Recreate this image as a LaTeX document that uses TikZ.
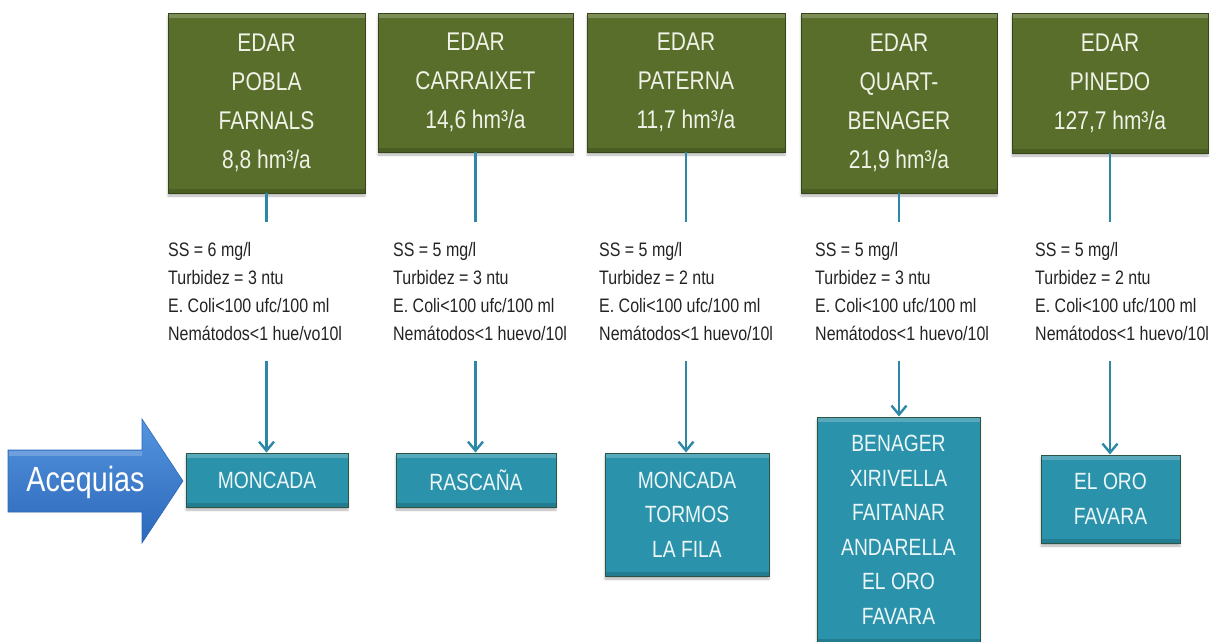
\documentclass[tikz,border=0pt]{standalone}
\usepackage{fontspec}
\setmainfont{Liberation Sans}[FakeStretch=0.82]
\usetikzlibrary{arrows.meta,shadows.blur}
\definecolor{edgreen}{RGB}{88,110,42}
\definecolor{edgreenD}{RGB}{55,70,25}
\definecolor{edteal}{RGB}{42,146,170}
\definecolor{edtealD}{RGB}{45,85,70}
\definecolor{edline}{RGB}{45,136,168}
\definecolor{blueL}{RGB}{84,148,222}
\definecolor{blueD}{RGB}{44,104,186}
\definecolor{txtgray}{RGB}{35,35,35}
\begin{document}
\begin{tikzpicture}[x=1pt,y=-1pt,
  bevel/.style={path picture={
      \fill[white,opacity=0.22] (path picture bounding box.north west) rectangle ([yshift=-5pt]path picture bounding box.north east);
      \fill[black,opacity=0.15] ([yshift=4pt]path picture bounding box.south west) rectangle (path picture bounding box.south east);}},
  edarbox/.style={draw=edgreenD, line width=0.8pt, fill=edgreen, text={rgb,255:red,240;green,242;blue,232},
      inner sep=0pt, align=center, font=\fontsize{25.6}{39}\selectfont, bevel,
      blur shadow={shadow xshift=0pt, shadow yshift=-3pt, shadow blur steps=4, shadow opacity=30}},
  acqbox/.style={draw=edtealD, line width=1pt, fill=edteal, text={rgb,255:red,236;green,246;blue,248},
      inner sep=0pt, align=center, font=\fontsize{23.5}{34.5}\selectfont, bevel,
      blur shadow={shadow xshift=0pt, shadow yshift=-3pt, shadow blur steps=4, shadow opacity=30}},
  quality/.style={anchor=north west, inner xsep=0pt, inner ysep=19.8pt, align=left, text=txtgray,
      font=\fontsize{19.5}{28.2}\selectfont},
  link/.style={draw=edline, line width=2.4pt},
  flow/.style={link, -{Straight Barb[length=9pt,width=15pt]}}
]
\useasboundingbox (0,0) rectangle (1211,641);

% EDAR boxes
\node[edarbox, minimum width=197pt, minimum height=180pt] (g1) at (266.5,103) {EDAR\\POBLA\\FARNALS\\8,8 hm³/a};
\node[edarbox, minimum width=195pt, minimum height=139pt] (g2) at (475.5,82.5) {EDAR\\CARRAIXET\\14,6 hm³/a};
\node[edarbox, minimum width=198pt, minimum height=139pt] (g3) at (686,82.5) {EDAR\\PATERNA\\11,7 hm³/a};
\node[edarbox, minimum width=196pt, minimum height=180pt] (g4) at (899,103) {EDAR\\QUART-\\BENAGER\\21,9 hm³/a};
\node[edarbox, minimum width=196pt, minimum height=140pt] (g5) at (1110,83) {EDAR\\PINEDO\\127,7 hm³/a};

% quality texts
\node[quality] (t1) at (168,222) {SS = 6 mg/l\\Turbidez = 3 ntu\\E. Coli<100 ufc/100 ml\\Nemátodos<1 hue/vo10l};
\node[quality] (t2) at (393,222) {SS = 5 mg/l\\Turbidez = 3 ntu\\E. Coli<100 ufc/100 ml\\Nemátodos<1 huevo/10l};
\node[quality] (t3) at (599,222) {SS = 5 mg/l\\Turbidez = 2 ntu\\E. Coli<100 ufc/100 ml\\Nemátodos<1 huevo/10l};
\node[quality] (t4) at (815,222) {SS = 5 mg/l\\Turbidez = 3 ntu\\E. Coli<100 ufc/100 ml\\Nemátodos<1 huevo/10l};
\node[quality] (t5) at (1035,222) {SS = 5 mg/l\\Turbidez = 2 ntu\\E. Coli<100 ufc/100 ml\\Nemátodos<1 huevo/10l};

% acequias boxes
\node[acqbox, minimum width=162pt, minimum height=54pt] (b1) at (267,480) {MONCADA};
\node[acqbox, minimum width=160pt, minimum height=54pt] (b2) at (476,480) {RASCAÑA};
\node[acqbox, minimum width=164pt, minimum height=123pt] (b3) at (687,514.5) {MONCADA\\TORMOS\\LA FILA};
\node[acqbox, minimum width=163pt, minimum height=226pt] (b4) at (898.5,530) {BENAGER\\XIRIVELLA\\FAITANAR\\ANDARELLA\\EL ORO\\FAVARA};
\node[acqbox, minimum width=139pt, minimum height=88pt] (b5) at (1110.5,499) {EL ORO\\FAVARA};

% connectors
\foreach \i in {1,...,5}{
  \draw[link] (g\i.south) -- (g\i.south |- t\i.north);
  \draw[flow] (g\i.south |- t\i.south) -- (g\i.south |- b\i.north);
}

% Acequias arrow
\shade[top color=blueL, bottom color=blueD, draw=blueD, line width=0.6pt]
  (8,450) -- (142,450) -- (142,419) -- (183,481) -- (142,543) -- (142,512) -- (8,512) -- cycle;
\fill[white,opacity=0.2] (9,451) rectangle (142,456);
\node[text=white, font=\fontsize{35}{40}\selectfont, inner sep=0pt] (acq) at (85.5,482) {Acequias};
\end{tikzpicture}
\end{document}
